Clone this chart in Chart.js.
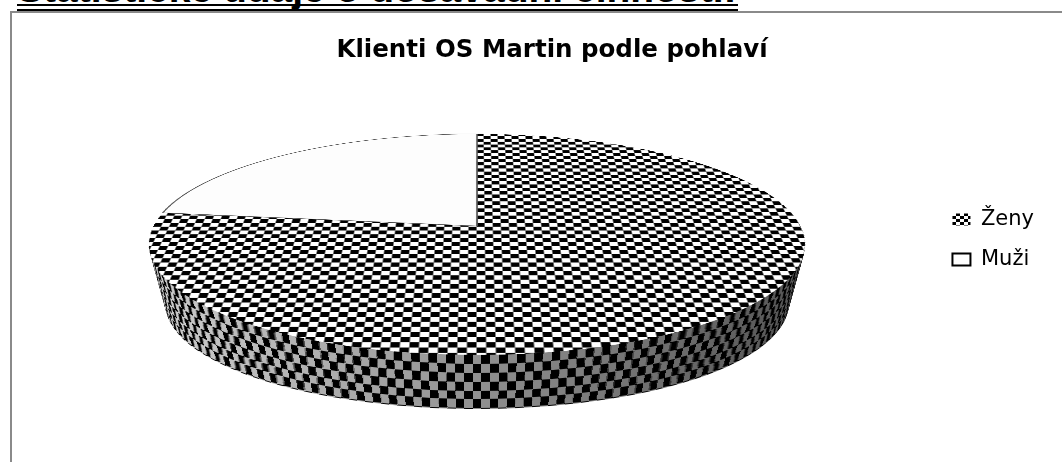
<!DOCTYPE html>
<html lang="cs">
<head>
<meta charset="utf-8">
<title>Klienti OS Martin podle pohlaví</title>
<script src="https://cdn.jsdelivr.net/npm/chart.js@4"></script>
<style>
  html, body { margin: 0; padding: 0; background: #fff; }
  #page { position: relative; width: 1062px; height: 462px; overflow: hidden; }
  #heading {
    position: absolute; left: 17px; top: -33px; white-space: nowrap;
    font: bold 39px "Liberation Sans", Arial, sans-serif; color: #000;
  }
  #rule { position: absolute; left: 17px; top: 4px; width: 721px; height: 3px; border-top: 2px solid #000; border-bottom: 2px solid #000; }
  #frame { position: absolute; left: 10px; top: 11px; width: 1060px; height: 470px; border-top: 2px solid #8a8a8a; border-left: 2px solid #8a8a8a; }
  canvas { position: absolute; left: 0; top: 0; filter: blur(0.4px); }
</style>
</head>
<body>
<div id="page">
  <div id="frame"></div>
  <div id="heading">Statistické údaje o dosavadní činnosti:</div>
  <div id="rule"></div>
  <canvas id="pie" width="1062" height="462"></canvas>
</div>
<script>
const categories = ['Ženy', 'Muži'];
const shares = [77, 23];
const chartTitle = 'Klienti OS Martin podle pohlaví';

// camera for the tilted disc
const view = { cx: 477, cy: 226, a: 323.4, b: 107.4, c: -0.167, depth: 54, top: 134, bottom: 355, shrink: 0.05 };
const discSize = 400; // radius of the flat disc, offscreen

function checkerTile(w, h, dark, light) {
  const t = document.createElement('canvas');
  t.width = w * 2; t.height = h * 2;
  const g = t.getContext('2d');
  g.fillStyle = light; g.fillRect(0, 0, w * 2, h * 2);
  g.fillStyle = dark; g.fillRect(0, 0, w, h); g.fillRect(w, h, w, h);
  return t;
}

// stripes round the rim, shaded lighter to the left
function rimGradient(ctx, arc, phase) {
  const n = 230;
  const grad = ctx.createConicGradient(0, arc.x, arc.y);
  for (let i = 0; i < n; i++) {
    const ang = (i + 0.5) / n * Math.PI * 2;
    const v = Math.round(145 - 60 * Math.cos(ang));
    const col = (i + phase) % 2 ? 'rgb(' + v + ',' + v + ',' + v + ')' : '#000';
    grad.addColorStop(i / n, col);
    grad.addColorStop((i + 1) / n, col);
  }
  return grad;
}

function drawWith(arc, ctx, over) {
  const saved = arc.options;
  arc.options = Object.assign({}, saved, over);
  arc.draw(ctx);
  arc.options = saved;
}

const tiltedPie = {
  id: 'tiltedPie',
  beforeDatasetsDraw(chart) {
    const ctx = chart.ctx;
    const arcs = chart.getDatasetMeta(0).data;
    const R = arcs[0].outerRadius;

    // side wall: the outline pushed down layer by layer, a bit narrower further down
    const k = 1 / Math.sqrt(1 - view.c * view.c);
    const rx = view.a * k;
    const ry = (view.bottom - view.top) / 2;
    const midY = (view.bottom + view.top) / 2;
    const grads = [rimGradient(ctx, arcs[0], 0), rimGradient(ctx, arcs[0], 1)];
    for (let s = view.depth; s >= 1; s--) {
      const band = Math.floor((s - 1) / 8.8) % 2;
      const f = 1 - view.shrink * s / view.depth;
      ctx.save();
      ctx.translate(view.cx, midY + s + ry * (1 - f));
      ctx.scale(rx * f / R, ry * f / R);
      ctx.translate(-arcs[0].x, -arcs[0].y);
      arcs.forEach(arc => drawWith(arc, ctx, { backgroundColor: grads[band], borderWidth: 0 }));
      ctx.restore();
    }

    // top face: flat disc offscreen, then copied row by row through the camera
    const S = discSize / R;
    const off = document.createElement('canvas');
    off.width = off.height = discSize * 2;
    const oc = off.getContext('2d');
    oc.translate(discSize, discSize);
    oc.scale(S, S);
    oc.translate(-arcs[0].x, -arcs[0].y);
    const pat = oc.createPattern(checkerTile(10, 14, '#000', '#fff'), 'repeat');
    pat.setTransform(new DOMMatrix().scale(1 / S));
    drawWith(arcs[0], oc, { backgroundColor: pat, borderWidth: 0 });
    arcs[1].draw(oc);

    ctx.save();
    ctx.imageSmoothingEnabled = true;
    for (let y = view.top - 1; y <= view.bottom + 1; y++) {
      const rel = y + 0.5 - view.cy;
      const den = view.b - view.c * rel;
      const v = rel / den;
      const w = 1 + view.c * v;
      const h = view.b / (den * den) * discSize;
      const destW = discSize * 2 * view.a / (discSize * w);
      ctx.drawImage(off, 0, discSize + v * discSize - h / 2, discSize * 2, h, view.cx - destW / 2, y, destW, 1);
    }
    ctx.restore();
    return false;
  }
};

const legendTile = document.createElement('canvas').getContext('2d').createPattern(checkerTile(4, 3, '#000', '#fff'), 'repeat');

new Chart(document.getElementById('pie'), {
  type: 'pie',
  plugins: [tiltedPie],
  data: {
    labels: categories,
    datasets: [{
      data: shares,
      backgroundColor: ['#000', '#fdfdfd'],
      borderColor: ['#000', '#555'],
      borderWidth: [0, 1]
    }]
  },
  options: {
    responsive: false,
    animation: false,
    layout: { padding: { left: 60, right: 18, top: 17 } },
    plugins: {
      tooltip: { enabled: false },
      title: {
        display: true,
        text: chartTitle,
        color: '#000',
        font: { family: '"DejaVu Sans"', size: 24.5, weight: 'bold' },
        padding: { top: 19, bottom: 10 }
      },
      legend: {
        position: 'right',
        labels: {
          color: '#222',
          font: { family: '"DejaVu Sans"', size: 21 },
          boxWidth: 18,
          boxHeight: 12,
          padding: 19,
          generateLabels: () => categories.map((name, i) => ({
            text: name,
            fillStyle: i === 0 ? legendTile : '#fff',
            strokeStyle: '#000',
            lineWidth: i === 0 ? 0 : 2,
            index: i
          }))
        }
      }
    }
  }
});
</script>
</body>
</html>
